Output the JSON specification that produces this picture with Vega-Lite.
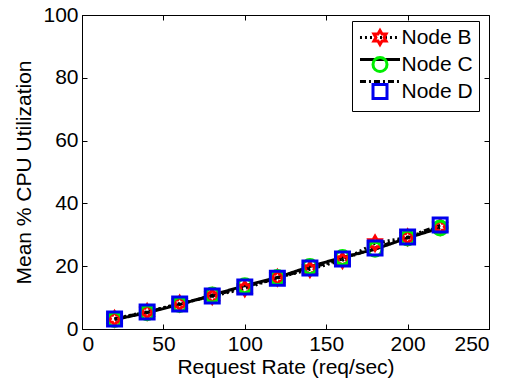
{
  "$schema": "https://vega.github.io/schema/vega-lite/v6.json",
  "width": 407,
  "height": 314,
  "autosize": "none",
  "padding": {"left": 82, "top": 15, "right": 20, "bottom": 58},
  "background": "white",
  "config": {
    "font": "Liberation Sans",
    "view": {"stroke": "black", "strokeWidth": 1},
    "axis": {
      "grid": false,
      "domainColor": "black",
      "tickColor": "black",
      "tickSize": -5,
      "labelColor": "black",
      "labelFontSize": 21,
      "titleFontSize": 21,
      "titleFontWeight": "normal",
      "titleColor": "black"
    },
    "legend": {
      "labelFontSize": 21,
      "labelColor": "black",
      "rowPadding": 0,
      "padding": 6,
      "orient": "none",
      "legendX": 270,
      "legendY": 6,
      "symbolSize": 196,
      "symbolStrokeWidth": 3,
      "symbolOffset": 11.5,
      "labelOffset": 11
    }
  },
  "data": {
    "values": [
      {"rate": 20, "cpu": 3.3, "node": "Node B"},
      {"rate": 40, "cpu": 5.5, "node": "Node B"},
      {"rate": 60, "cpu": 8.1, "node": "Node B"},
      {"rate": 80, "cpu": 10.4, "node": "Node B"},
      {"rate": 100, "cpu": 12.9, "node": "Node B"},
      {"rate": 120, "cpu": 16.3, "node": "Node B"},
      {"rate": 140, "cpu": 19.0, "node": "Node B"},
      {"rate": 160, "cpu": 21.9, "node": "Node B"},
      {"rate": 180, "cpu": 27.3, "node": "Node B"},
      {"rate": 200, "cpu": 29.2, "node": "Node B"},
      {"rate": 220, "cpu": 32.6, "node": "Node B"},
      {"rate": 20, "cpu": 3.0, "node": "Node C"},
      {"rate": 40, "cpu": 5.2, "node": "Node C"},
      {"rate": 60, "cpu": 7.8, "node": "Node C"},
      {"rate": 80, "cpu": 10.8, "node": "Node C"},
      {"rate": 100, "cpu": 13.8, "node": "Node C"},
      {"rate": 120, "cpu": 16.4, "node": "Node C"},
      {"rate": 140, "cpu": 19.9, "node": "Node C"},
      {"rate": 160, "cpu": 22.8, "node": "Node C"},
      {"rate": 180, "cpu": 25.4, "node": "Node C"},
      {"rate": 200, "cpu": 29.0, "node": "Node C"},
      {"rate": 220, "cpu": 32.2, "node": "Node C"},
      {"rate": 20, "cpu": 3.2, "node": "Node D"},
      {"rate": 40, "cpu": 5.4, "node": "Node D"},
      {"rate": 60, "cpu": 8.0, "node": "Node D"},
      {"rate": 80, "cpu": 10.5, "node": "Node D"},
      {"rate": 100, "cpu": 13.4, "node": "Node D"},
      {"rate": 120, "cpu": 16.2, "node": "Node D"},
      {"rate": 140, "cpu": 19.4, "node": "Node D"},
      {"rate": 160, "cpu": 22.3, "node": "Node D"},
      {"rate": 180, "cpu": 25.8, "node": "Node D"},
      {"rate": 200, "cpu": 29.3, "node": "Node D"},
      {"rate": 220, "cpu": 33.1, "node": "Node D"}
    ]
  },
  "layer": [
    {
      "mark": {"type": "line", "color": "black", "strokeWidth": 3},
      "encoding": {
        "x": {
          "field": "rate", "type": "quantitative",
          "scale": {"domain": [0, 250], "nice": false},
          "axis": {"values": [0, 50, 100, 150, 200, 250], "title": "Request Rate (req/sec)", "labelPadding": 9, "titlePadding": 2}
        },
        "y": {
          "field": "cpu", "type": "quantitative",
          "scale": {"domain": [0, 100], "nice": false},
          "axis": {"values": [0, 20, 40, 60, 80, 100], "title": "Mean % CPU Utilization", "labelPadding": 9, "titlePadding": 8}
        },
        "strokeDash": {
          "field": "node", "type": "nominal",
          "scale": {"range": [[2, 3], [1, 0], [6, 3, 2, 3]]},
          "legend": {
            "title": null,
            "symbolType": "M-2.86,0L2.86,0",
            "symbolStrokeColor": "black",
            "labelExpr": "' '",
            "zindex": 0
          }
        }
      }
    },
    {
      "mark": {"type": "point", "filled": false, "strokeWidth": 3, "size": 196, "opacity": 1},
      "encoding": {
        "x": {"field": "rate", "type": "quantitative", "axis": {"orient": "top", "values": [0, 50, 100, 150, 200, 250], "labels": false, "domain": false, "title": null}},
        "y": {"field": "cpu", "type": "quantitative", "axis": {"orient": "right", "values": [0, 20, 40, 60, 80, 100], "labels": false, "domain": false, "title": null}},
        "color": {
          "field": "node", "type": "nominal",
          "scale": {"domain": ["Node B", "Node C", "Node D"], "range": ["#ff0000", "#00ee00", "#0000ee"]},
          "legend": {"title": null, "strokeColor": "black", "zindex": 1}
        },
        "shape": {
          "field": "node", "type": "nominal",
          "scale": {
            "domain": ["Node B", "Node C", "Node D"],
            "range": ["M0,-1L0.289,-0.5L0.866,-0.5L0.577,0L0.866,0.5L0.289,0.5L0,1L-0.289,0.5L-0.866,0.5L-0.577,0L-0.866,-0.5L-0.289,-0.5Z", "circle", "square"]
          },
          "legend": {"title": null}
        }
      }
    }
  ],
  "resolve": {"axis": {"x": "independent", "y": "independent"}}
}
